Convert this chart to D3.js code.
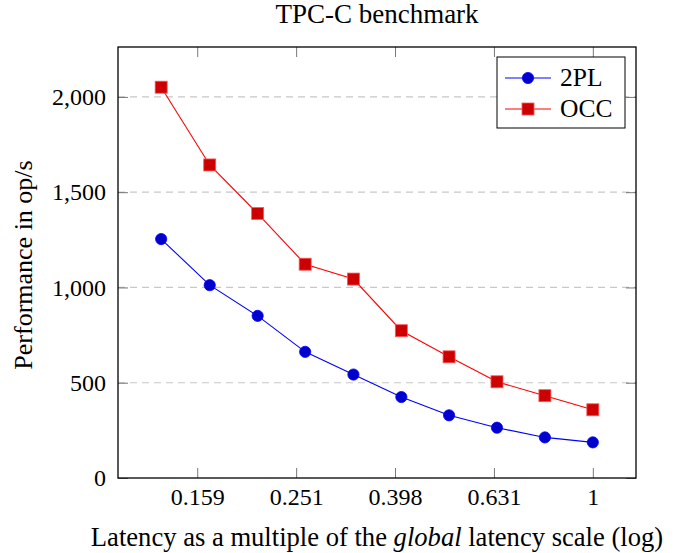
<!DOCTYPE html>
<html>
<head>
<meta charset="utf-8">
<script src="https://cdn.jsdelivr.net/npm/d3@7"></script>
<style>
  body { margin: 0; background: #fff; }
  text { font-family: "Liberation Serif", "DejaVu Serif", serif; fill: #000; }
</style>
</head>
<body>
<svg id="chart" width="682" height="553"></svg>
<script>
// latency multiples (log x axis)
const latency = [0.134, 0.168, 0.21, 0.262, 0.328, 0.41, 0.512, 0.64, 0.8, 1];
const perf2PL = [1254, 1012, 851, 662, 543, 425, 329, 264, 213, 187];
const perfOCC = [2051, 1643, 1388, 1122, 1044, 773, 636, 505, 432, 358];
const xTicks = [0.1585, 0.2512, 0.3981, 0.631, 1];
const xTickLabels = ["0.159", "0.251", "0.398", "0.631", "1"];
const yTicks = [0, 500, 1000, 1500, 2000];
const seriesNames = ["2PL", "OCC"];

const svg = d3.select("#chart");
const pLeft = 118, pRight = 636, pTop = 47, pBottom = 478;
const serif = '"Liberation Serif", "DejaVu Serif", serif';

// pgfplots style 10% enlargement on the log range
let lmin = Math.log10(d3.min(latency)), lmax = Math.log10(d3.max(latency));
let pad = (lmax - lmin) * 0.1;
let x = d3.scaleLog()
  .domain([Math.pow(10, lmin - pad), Math.pow(10, lmax + pad)])
  .range([pLeft, pRight]);
let y = d3.scaleLinear().domain([0, 2262]).range([pBottom, pTop]);

// grid
svg.append("g").selectAll("line")
  .data(yTicks.filter(d => d > 0))
  .join("line")
  .attr("x1", pLeft).attr("x2", pRight)
  .attr("y1", d => y(d)).attr("y2", d => y(d))
  .attr("stroke", "#c8c8c8").attr("stroke-width", 1.2)
  .attr("stroke-dasharray", "7,5");

// axes (ticks inside, on both sides)
const tickLen = 10;
let xb = svg.append("g").attr("transform", `translate(0,${pBottom})`)
  .call(d3.axisBottom(x).tickValues(xTicks).tickSizeInner(-tickLen).tickSizeOuter(0)
    .tickFormat((d, i) => xTickLabels[i]));
xb.selectAll(".tick text").attr("y", 27).attr("dy", 0);
let xt = svg.append("g").attr("transform", `translate(0,${pTop})`)
  .call(d3.axisTop(x).tickValues(xTicks).tickSizeInner(-tickLen).tickSizeOuter(0).tickFormat(""));
let yl = svg.append("g").attr("transform", `translate(${pLeft},0)`)
  .call(d3.axisLeft(y).tickValues(yTicks).tickSizeInner(-tickLen).tickSizeOuter(0)
    .tickPadding(12).tickFormat(d3.format(",")));
let yr = svg.append("g").attr("transform", `translate(${pRight},0)`)
  .call(d3.axisRight(y).tickValues(yTicks).tickSizeInner(-tickLen).tickSizeOuter(0).tickFormat(""));

[xb, xt, yl, yr].forEach(g => {
  g.attr("font-family", serif);
  g.select(".domain").remove();
  g.selectAll(".tick line").attr("stroke", "#555").attr("stroke-width", 0.8);
  g.selectAll(".tick text").style("font-size", "24px").style("font-family", serif);
});

// frame
svg.append("rect").attr("x", pLeft).attr("y", pTop)
  .attr("width", pRight - pLeft).attr("height", pBottom - pTop)
  .attr("fill", "none").attr("stroke", "#000").attr("stroke-width", 1.3);

// lines
let line = d3.line().x(d => x(d[0])).y(d => y(d[1]));
let d2PL = latency.map((l, i) => [l, perf2PL[i]]);
let dOCC = latency.map((l, i) => [l, perfOCC[i]]);

svg.append("path").datum(d2PL).attr("d", line)
  .attr("fill", "none").attr("stroke", "#0000ff").attr("stroke-width", 1.1);
svg.append("path").datum(dOCC).attr("d", line)
  .attr("fill", "none").attr("stroke", "#ff0000").attr("stroke-width", 1.1);

svg.append("g").selectAll("circle").data(d2PL).join("circle")
  .attr("cx", d => x(d[0])).attr("cy", d => y(d[1])).attr("r", 5.6)
  .attr("fill", "#0000cc").attr("stroke", "#0000ff").attr("stroke-width", 0.8);
const sq = 12;
svg.append("g").selectAll("rect").data(dOCC).join("rect")
  .attr("x", d => x(d[0]) - sq / 2).attr("y", d => y(d[1]) - sq / 2)
  .attr("width", sq).attr("height", sq)
  .attr("fill", "#cc0000").attr("stroke", "#ff5555").attr("stroke-width", 0.8);

// legend
let lg = svg.append("g");
lg.append("rect").attr("x", 497).attr("y", 57).attr("width", 128).attr("height", 71)
  .attr("fill", "#fff").attr("stroke", "#000").attr("stroke-width", 1);
let ly = [78, 109];
lg.append("line").attr("x1", 505).attr("x2", 551).attr("y1", ly[0]).attr("y2", ly[0])
  .attr("stroke", "#0000ff").attr("stroke-width", 1.1);
lg.append("circle").attr("cx", 528).attr("cy", ly[0]).attr("r", 5.6)
  .attr("fill", "#0000cc").attr("stroke", "#0000ff").attr("stroke-width", 0.8);
lg.append("line").attr("x1", 505).attr("x2", 551).attr("y1", ly[1]).attr("y2", ly[1])
  .attr("stroke", "#ff0000").attr("stroke-width", 1.1);
lg.append("rect").attr("x", 528 - sq / 2).attr("y", ly[1] - sq / 2).attr("width", sq).attr("height", sq)
  .attr("fill", "#cc0000").attr("stroke", "#ff5555").attr("stroke-width", 0.8);
lg.selectAll("text.lab").data(seriesNames).join("text")
  .attr("x", 560).attr("y", (d, i) => ly[i] + 8)
  .style("font-size", "25.5px").text(d => d);

// title and axis labels
svg.append("text").attr("x", (pLeft + pRight) / 2).attr("y", 23)
  .attr("text-anchor", "middle").style("font-size", "27px").text("TPC-C benchmark");

let xl = svg.append("text").attr("x", (pLeft + pRight) / 2).attr("y", 546)
  .attr("text-anchor", "middle").style("font-size", "26.6px");
xl.append("tspan").text("Latency as a multiple of the ");
xl.append("tspan").style("font-style", "italic").text("global");
xl.append("tspan").text(" latency scale (log)");

svg.append("text").attr("transform", `translate(32,265) rotate(-90)`)
  .attr("text-anchor", "middle").style("font-size", "26px").text("Performance in op/s");
</script>
</body>
</html>
